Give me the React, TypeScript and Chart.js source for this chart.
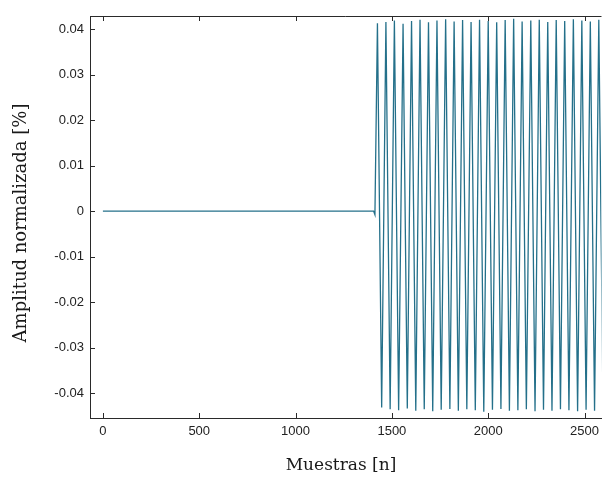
import React, { useEffect, useRef } from "react";
import { Chart, registerables } from "chart.js";

Chart.register(...registerables);

// Flat segment before the signal starts
const flatX = [0, 1405, 1412];
const flatY = [0, 0, -0.0008];

// Oscillation extremes (samples, normalized amplitude)
const peakX = [1425, 1469, 1513, 1558, 1602, 1646, 1690, 1734, 1779, 1823, 1867, 1911, 1955, 2000, 2044, 2088, 2132, 2176, 2221, 2265, 2309, 2353, 2397, 2442, 2486, 2530, 2574];
const peakY = [0.0413, 0.0416, 0.0419, 0.0412, 0.0418, 0.0421, 0.0415, 0.0419, 0.0422, 0.0417, 0.042, 0.0416, 0.0421, 0.0418, 0.0415, 0.042, 0.0423, 0.0417, 0.0419, 0.0421, 0.0416, 0.042, 0.0418, 0.0422, 0.0419, 0.0417, 0.0421];
const troughX = [1447, 1491, 1535, 1580, 1624, 1668, 1712, 1756, 1801, 1845, 1889, 1933, 1977, 2022, 2066, 2110, 2154, 2198, 2243, 2287, 2331, 2375, 2419, 2464, 2508, 2552, 2596];
const troughY = [-0.0432, -0.0436, -0.0438, -0.0434, -0.0439, -0.0436, -0.044, -0.0437, -0.0435, -0.0439, -0.0436, -0.0438, -0.0441, -0.0437, -0.0435, -0.0439, -0.0438, -0.0436, -0.044, -0.0437, -0.0439, -0.0436, -0.0438, -0.044, -0.0437, -0.0439, -0.0436];

const xTicks = [0, 500, 1000, 1500, 2000, 2500];
const yTicks = [-0.04, -0.03, -0.02, -0.01, 0, 0.01, 0.02, 0.03, 0.04];

const xTitle = "Muestras [n]";
const yTitle = "Amplitud normalizada [%]";

const X_MIN = -67;
const X_MAX = 2588;
const Y_MIN = -0.0455;
const Y_MAX = 0.0429;

export default function App() {
  const ref = useRef<HTMLCanvasElement | null>(null);

  useEffect(() => {
    if (!ref.current) return;
    const pts: { x: number; y: number }[] = [];
    flatX.forEach((x, i) => pts.push({ x, y: flatY[i] }));
    const ext: { x: number; y: number }[] = [];
    peakX.forEach((x, i) => ext.push({ x, y: peakY[i] }));
    troughX.forEach((x, i) => ext.push({ x, y: troughY[i] }));
    ext.sort((a, b) => a.x - b.x);
    pts.push(...ext);

    const boxPlugin = {
      id: "boxPlugin",
      afterDraw(chart: any) {
        const { ctx, chartArea } = chart;
        const xs = chart.scales.x;
        const ys = chart.scales.y;
        ctx.save();
        ctx.strokeStyle = "#2a2a2a";
        ctx.lineWidth = 1;
        // top border
        ctx.beginPath();
        ctx.moveTo(chartArea.left, chartArea.top + 0.5);
        ctx.lineTo(chartArea.right, chartArea.top + 0.5);
        ctx.stroke();
        // inward ticks
        ctx.beginPath();
        xTicks.forEach((v) => {
          const px = Math.round(xs.getPixelForValue(v)) + 0.5;
          ctx.moveTo(px, chartArea.bottom);
          ctx.lineTo(px, chartArea.bottom - 5);
          ctx.moveTo(px, chartArea.top);
          ctx.lineTo(px, chartArea.top + 5);
        });
        yTicks.forEach((v) => {
          const py = Math.round(ys.getPixelForValue(v)) + 0.5;
          ctx.moveTo(chartArea.left, py);
          ctx.lineTo(chartArea.left + 5, py);
        });
        ctx.stroke();
        // titles
        ctx.fillStyle = "#1a1a1a";
        ctx.textAlign = "center";
        ctx.textBaseline = "middle";
        ctx.font = "17px 'DejaVu Serif'";
        ctx.fillText(xTitle, 341, 466);
        ctx.translate(21, 223);
        ctx.rotate(-Math.PI / 2);
        ctx.font = "18px 'DejaVu Serif'";
        ctx.fillText(yTitle, 0, 0);
        ctx.restore();
      },
    };

    const chart = new Chart(ref.current, {
      type: "line",
      data: {
        datasets: [
          {
            data: pts,
            borderColor: "#24708a",
            borderWidth: 1.3,
            pointRadius: 0,
            tension: 0,
            fill: false,
          },
        ],
      },
      options: {
        animation: false,
        responsive: false,
        maintainAspectRatio: false,
        layout: { padding: { top: 16, right: 0, left: 0, bottom: 0 } },
        plugins: { legend: { display: false }, tooltip: { enabled: false } },
        scales: {
          x: {
            type: "linear",
            min: X_MIN,
            max: X_MAX,
            grid: { display: false, drawTicks: false },
            border: { display: true, color: "#2a2a2a", width: 1 },
            afterBuildTicks: (s: any) => {
              s.ticks = xTicks.map((v) => ({ value: v }));
            },
            afterFit: (s: any) => {
              s.height = 60;
            },
            ticks: {
              padding: 6,
              color: "#222",
              font: { family: "'Liberation Sans', Arial", size: 13 },
              maxRotation: 0,
              autoSkip: false,
              callback: (v: any) => String(v),
            },
          },
          y: {
            type: "linear",
            min: Y_MIN,
            max: Y_MAX,
            grid: { display: false, drawTicks: false },
            border: { display: true, color: "#2a2a2a", width: 1 },
            afterBuildTicks: (s: any) => {
              s.ticks = yTicks.map((v) => ({ value: v }));
            },
            afterFit: (s: any) => {
              s.width = 90;
            },
            ticks: {
              padding: 6,
              color: "#222",
              font: { family: "'Liberation Sans', Arial", size: 13 },
              autoSkip: false,
              callback: (v: any) => (Math.abs(v) < 1e-9 ? "0" : Number(v).toFixed(2)),
            },
          },
        },
      },
      plugins: [boxPlugin],
    });
    return () => chart.destroy();
  }, []);

  return (
    <div style={{ position: "absolute", left: 0, top: 0, width: 605, height: 478, background: "#fff" }}>
      <canvas ref={ref} width={605} height={478} style={{ width: 605, height: 478, display: "block" }} />
    </div>
  );
}
